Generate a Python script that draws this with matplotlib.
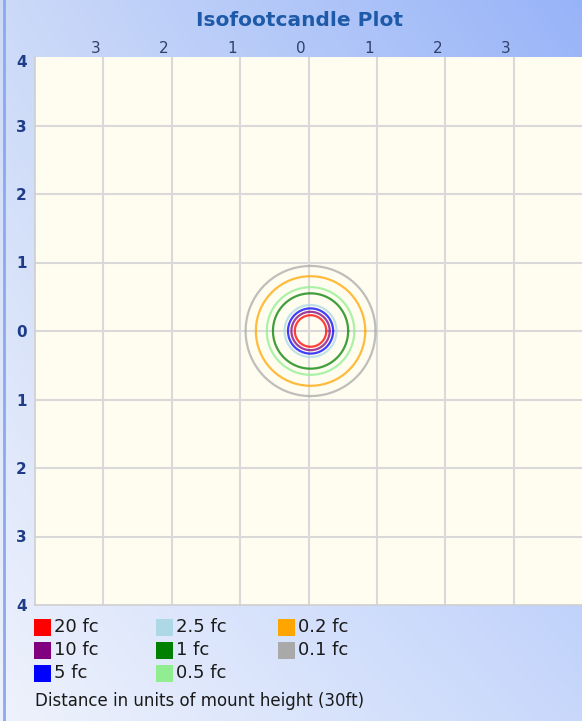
import numpy as np
import matplotlib
matplotlib.use("Agg")
import matplotlib.pyplot as plt
from matplotlib.patches import Rectangle
from matplotlib.transforms import ScaledTranslation
from matplotlib.colors import to_rgb

# ---- data ----
levels = ["20 fc", "10 fc", "5 fc", "2.5 fc", "1 fc", "0.5 fc", "0.2 fc", "0.1 fc"]
colors = ["#ff0000", "#800080", "#0000ff", "#add8e6", "#008000", "#90ee90", "#ffa500", "#a9a9a9"]
radii = [0.23, 0.28, 0.33, 0.38, 0.55, 0.64, 0.80, 0.95]   # in mount heights
center = (0.03, 0.0)
x_ticks = [-3, -2, -1, 0, 1, 2, 3]
x_ticklabels = ["3", "2", "1", "0", "1", "2", "3"]
y_ticks = [-4, -3, -2, -1, 0, 1, 2, 3, 4]
y_ticklabels = ["4", "3", "2", "1", "0", "1", "2", "3", "4"]
grid_vals = [-3, -2, -1, 0, 1, 2, 3]
title = "Isofootcandle Plot"
footer = "Distance in units of mount height (30ft)"

W, H = 582, 721
fig = plt.figure(figsize=(W / 100, H / 100), dpi=100)

# gradient background
bg = fig.add_axes([0, 0, 1, 1], zorder=-10)
tl, tr = np.array(to_rgb("#ccdaf8")), np.array(to_rgb("#98b4f8"))
bl, br = np.array(to_rgb("#eef2fc")), np.array(to_rgb("#c8d8fc"))
u = np.linspace(0, 1, 200)[None, :, None]
v = np.linspace(0, 1, 250)[:, None, None]
img = (1 - v) * ((1 - u) * tl + u * tr) + v * ((1 - u) * bl + u * br)
bg.imshow(img, aspect="auto", extent=[0, 1, 0, 1], origin="upper")
bg.axvline(3.5 / W, color="#8ea8ee", lw=2)
bg.set_xlim(0, 1); bg.set_ylim(0, 1)
bg.axis("off")

# main axes
ax = fig.add_axes([35 / W, 1 - 605 / H, 547 / W, 548 / H])
ax.set_facecolor("#fffdf0")
ax.set_xlim(-4, 4)
ax.set_ylim(-4, 4)
for g in grid_vals:
    ax.axvline(g, color="#d9d9d9", lw=1.5, zorder=1)
    ax.axhline(g, color="#d9d9d9", lw=1.5, zorder=1)
for s in ax.spines.values():
    s.set_color("#cfcfcf")
    s.set_linewidth(1.2)
ax.spines["right"].set_visible(False)
ax.spines["top"].set_visible(False)

theta = np.linspace(0, 2 * np.pi, 73)
for r, c in zip(radii, colors):
    ax.plot(center[0] + r * np.cos(theta), center[1] + r * np.sin(theta),
            color=c, lw=1.6, alpha=0.75, zorder=3)

ax.xaxis.tick_top()
ax.set_xticks(x_ticks)
ax.set_xticklabels(x_ticklabels, fontsize=11, color="#30406a")
ax.set_yticks(y_ticks)
ax.set_yticklabels(y_ticklabels, fontsize=11, color="#1f3c88", fontweight="bold")
ax.tick_params(axis="x", length=0, pad=1)
ax.tick_params(axis="y", length=0, pad=6)
for lab in ax.get_xticklabels():
    lab.set_transform(lab.get_transform() + ScaledTranslation(-8 / 100, 0, fig.dpi_scale_trans))
ylabs = ax.get_yticklabels()
ylabs[-1].set_transform(ylabs[-1].get_transform() + ScaledTranslation(0, -4 / 100, fig.dpi_scale_trans))

fig.text(300 / W, 1 - 21 / H, title, ha="center", va="center",
         fontsize=14.5, fontweight="bold", color="#1e5aa8")

# legend
for i, (lab, c) in enumerate(zip(levels, colors)):
    col, row = i // 3, i % 3
    x0 = 34 + col * 122
    yc = 627 + row * 23
    fig.patches.append(Rectangle((x0 / W, 1 - (yc + 8.5) / H), 17 / W, 17 / H,
                                 transform=fig.transFigure, facecolor=c,
                                 edgecolor="none"))
    fig.text((x0 + 20) / W, 1 - yc / H, lab, ha="left", va="center",
             fontsize=13, color="#1a1a1a")
fig.text(35 / W, 1 - 701 / H, footer, ha="left", va="center", fontsize=12, color="#1a1a1a")

fig.savefig("out.png", dpi=100)
